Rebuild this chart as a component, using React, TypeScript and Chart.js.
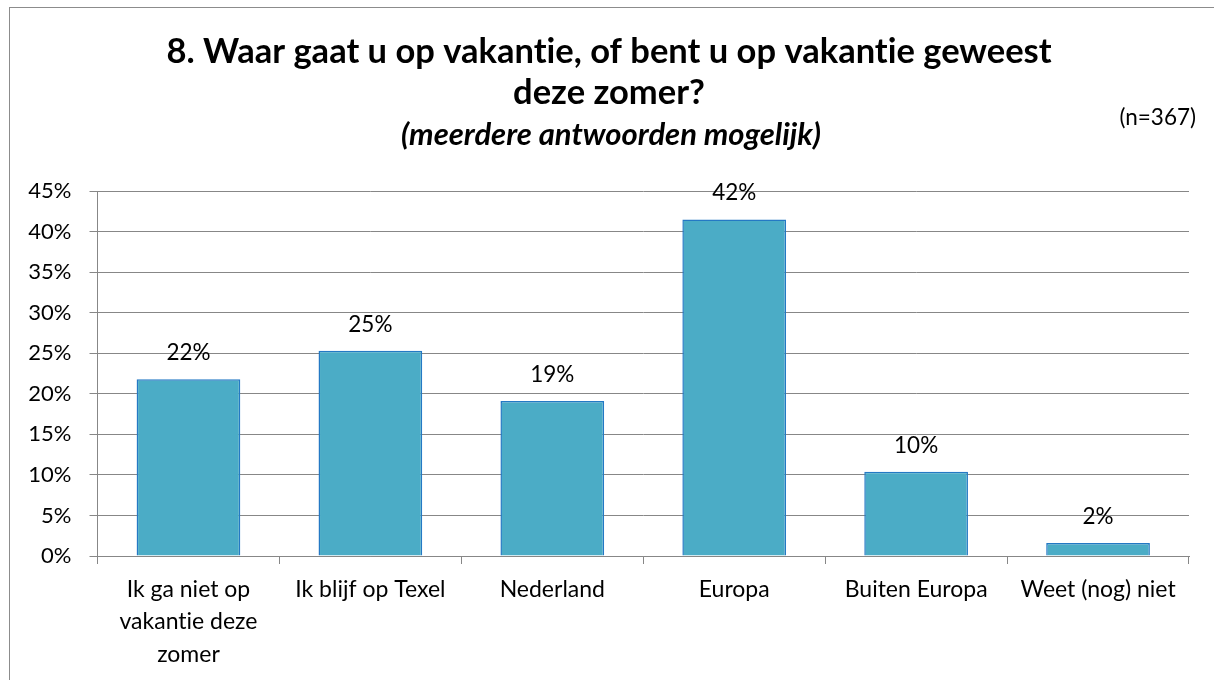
import React, { useEffect, useRef } from "react";
import { Chart, registerables } from "chart.js";

Chart.register(...registerables);

const categories: (string | string[])[] = [
  ["Ik ga niet op", "vakantie deze", "zomer"],
  "Ik blijf op Texel",
  "Nederland",
  "Europa",
  "Buiten Europa",
  "Weet (nog) niet",
];
const percentages = [21.8, 25.3, 19.1, 41.5, 10.4, 1.6];
const titleLines = ["8. Waar gaat u op vakantie, of bent u op vakantie geweest", "deze zomer?"];
const subtitleText = "(meerdere antwoorden mogelijk)";
const sampleNote = "(n=367)";
const yMin = 0;
const yMax = 45;
const yStep = 5;

const FONT = "Lato, 'Liberation Sans', sans-serif";
const GRID = "#878787";

export default function App() {
  const ref = useRef<HTMLCanvasElement | null>(null);

  useEffect(() => {
    const canvas = ref.current;
    if (!canvas) return;

    const textPlugin = {
      id: "texts",
      beforeDraw(chart: any) {
        const ctx = chart.ctx as any;
        ctx.textRendering = "optimizeSpeed";
      },
      afterDraw(chart: any) {
        const ctx = chart.ctx as any;
        ctx.save();
        ctx.textRendering = "optimizeSpeed";
        ctx.fillStyle = "#000";
        ctx.textAlign = "center";
        ctx.textBaseline = "alphabetic";
        ctx.font = `bold 34.5px ${FONT}`;
        ctx.fillText(titleLines[0], 609, 63);
        ctx.fillText(titleLines[1], 609, 104);
        ctx.font = `italic bold 31px ${FONT}`;
        ctx.fillText(subtitleText, 611, 145);
        ctx.font = `22.5px ${FONT}`;
        ctx.textAlign = "right";
        ctx.fillText(sampleNote, 1196, 125);
        // value labels
        ctx.textAlign = "center";
        ctx.font = `22.5px ${FONT}`;
        const meta = chart.getDatasetMeta(0);
        meta.data.forEach((el: any, i: number) => {
          ctx.fillText(`${Math.round(percentages[i])}%`, el.x, el.y - 19);
        });
        ctx.restore();
      },
    };

    const chart = new Chart(canvas, {
      type: "bar",
      data: {
        labels: categories,
        datasets: [
          {
            data: percentages,
            backgroundColor: "#4BACC6",
            borderColor: "#2479C4",
            borderWidth: 1.5,
            categoryPercentage: 1,
            barPercentage: 0.57,
          },
        ],
      },
      options: {
        responsive: false,
        animation: false,
        devicePixelRatio: 1,
        layout: { padding: { top: 191, right: 25, bottom: 0, left: 0 } },
        plugins: {
          legend: { display: false },
          title: { display: false },
          tooltip: { enabled: false },
        },
        scales: {
          x: {
            grid: {
              display: true,
              drawOnChartArea: false,
              drawTicks: true,
              tickLength: 8,
              color: GRID,
              offset: true,
            },
            border: { display: true, color: GRID, width: 1 },
            ticks: {
              color: "#000",
              font: { family: FONT, size: 23, lineHeight: 1.42 },
              padding: 9,
              maxRotation: 0,
              minRotation: 0,
              autoSkip: false,
            },
            afterFit(scale: any) {
              scale.height = 124;
            },
          },
          y: {
            min: yMin,
            max: yMax,
            grid: { color: GRID, tickLength: 8, drawTicks: true },
            border: { display: true, color: GRID, width: 1 },
            ticks: {
              stepSize: yStep,
              color: "#000",
              font: { family: FONT, size: 22 },
              padding: 18,
              callback: (v: any) => `${v}%`,
            },
            afterFit(scale: any) {
              scale.width = 97.5;
            },
          },
        },
      },
      plugins: [textPlugin],
    });

    return () => chart.destroy();
  }, []);

  return (
    <div
      style={{
        position: "fixed",
        left: 0,
        top: 0,
        width: 1214,
        height: 680,
        overflow: "hidden",
        background: "#fff",
      }}
    >
      <canvas ref={ref} width={1214} height={680} style={{ position: "absolute", left: 0, top: 0 }} />
      <div
        style={{
          position: "absolute",
          left: 9,
          top: 7,
          width: 1400,
          height: 900,
          border: "1px solid #8c8c8c",
          pointerEvents: "none",
        }}
      />
    </div>
  );
}
